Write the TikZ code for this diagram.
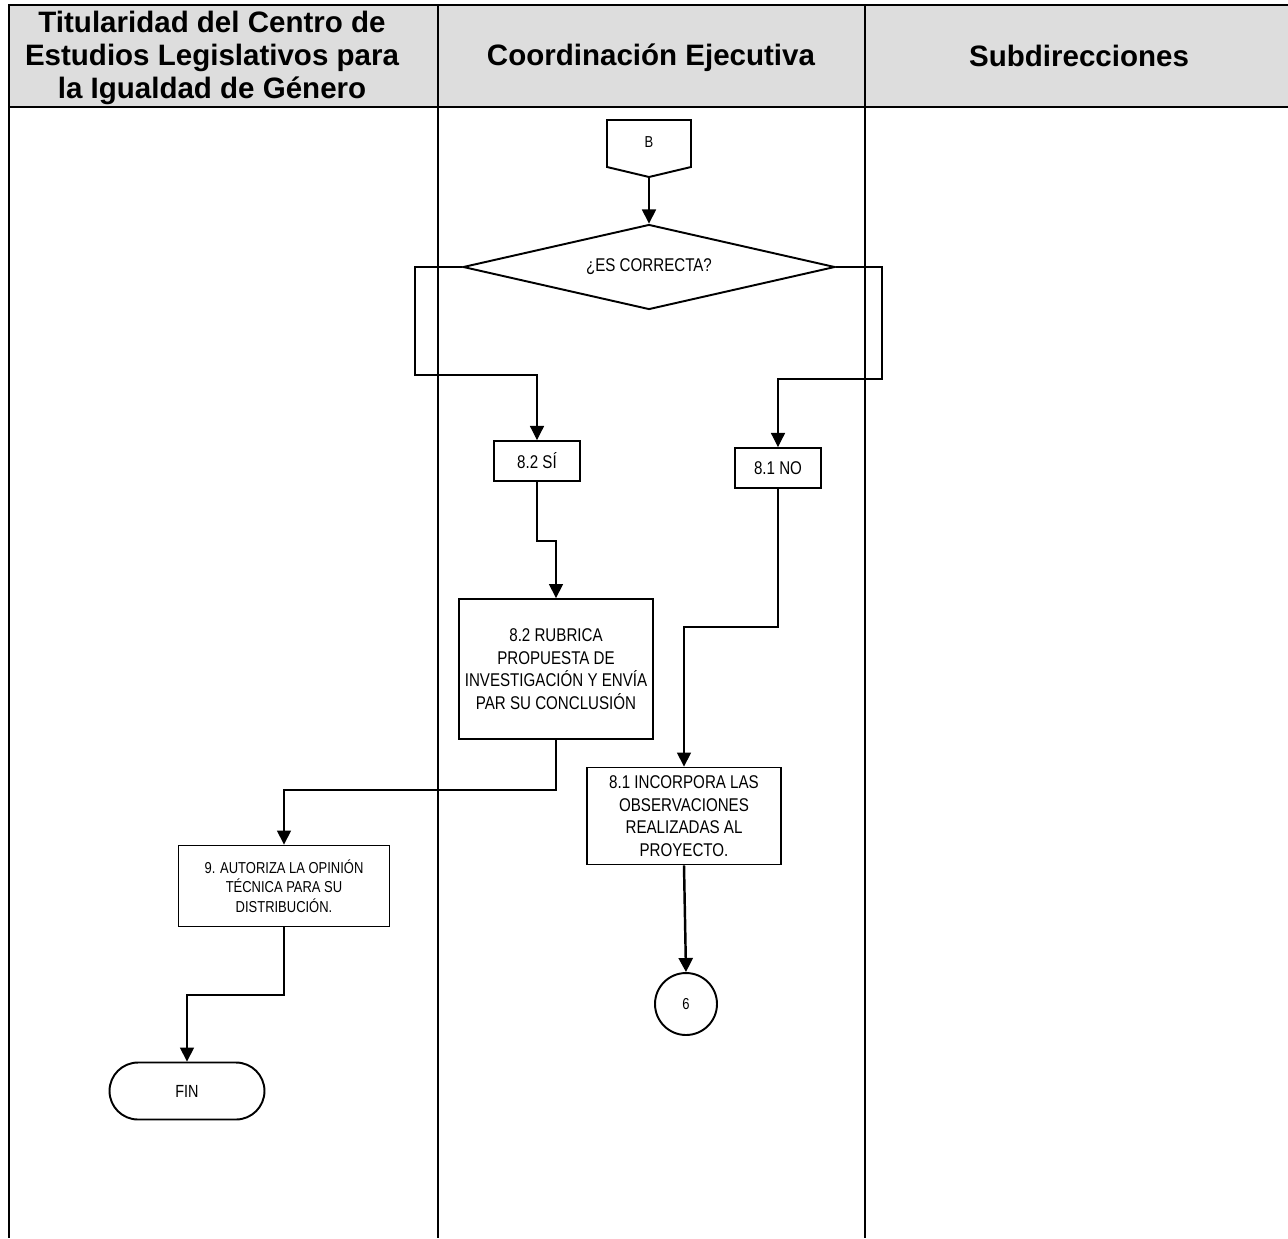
\documentclass[tikz,border=0pt]{standalone}
\usepackage{fontspec}
\setmainfont{Liberation Sans}
\newfontfamily\narrowfont[FakeStretch=0.82]{Liberation Sans}
\usetikzlibrary{arrows.meta,shapes.geometric,shapes.misc}
\definecolor{headgray}{HTML}{DDDDDD}

\begin{document}
\begin{tikzpicture}[x=0.02cm, y=-0.02cm,
    lane/.style={black, line width=1.1pt},
    headtext/.style={align=center, font=\bfseries\fontsize{16.8}{18.9}\selectfont},
    box/.style={draw, line width=1.1pt, fill=white, inner sep=0pt, align=center,
        font=\narrowfont\fontsize{10.5}{12.9}\selectfont},
    link/.style={line width=0.9pt, -{Triangle[width=8pt,length=8pt]}},
    thinlink/.style={line width=0.6pt, -{Triangle[width=8pt,length=8pt]}}
]
    %\draw[step=100,gray,very thin] (0,0) grid (1288,1238);
    \useasboundingbox (0,0) rectangle (1288,1238);

    % encabezado
    \fill[headgray] (9,5) rectangle (1288,107);
    \draw[black, line width=1.7pt] (9,5) -- (1288,5);
    \draw[black, line width=1.7pt] (9,107) -- (1288,107);
    \draw[lane] (9,4) -- (9,1238);
    \draw[lane] (438,5) -- (438,1238);
    \draw[lane] (865,5) -- (865,1238);

    \node[headtext] (hdTit) at (212,58) {Titularidad del Centro de\\Estudios Legislativos para\\la Igualdad de Género};
    \node[headtext] (hdCoord) at (651,58) {Coordinación Ejecutiva};
    \node[headtext] (hdSub) at (1079,56) {Subdirecciones};

    % conector B
    \draw[line width=1.1pt, fill=white] (607,120) -- (691,120) -- (691,167) -- (649,177) -- (607,167) -- cycle;
    \node[font=\narrowfont\fontsize{9}{11}\selectfont] (B) at (649,142) {B};
    \coordinate (Btip) at (649,177);

    % decision
    \node[box, diamond, aspect=4.4, minimum width=7.44cm, minimum height=1.7cm] (dec) at (649,267) {¿ES CORRECTA?};

    \node[box, minimum width=1.72cm, minimum height=0.8cm] (si) at (537,461) {8.2 SÍ};
    \node[box, minimum width=1.72cm, minimum height=0.8cm] (no) at (778,468) {8.1 NO};

    \node[box, minimum width=3.88cm, minimum height=2.8cm] (rub) at (556,669)
        {8.2 RUBRICA\\PROPUESTA DE\\INVESTIGACIÓN Y ENVÍA\\PAR SU CONCLUSIÓN};
    \node[box, minimum width=3.88cm, minimum height=1.94cm] (inc) at (684,816)
        {8.1 INCORPORA LAS\\OBSERVACIONES\\REALIZADAS AL\\PROYECTO.};
    \node[box, minimum width=4.22cm, minimum height=1.62cm,
        font=\narrowfont\fontsize{9}{11.2}\selectfont] (aut) at (284,886)
        {9. AUTORIZA LA OPINIÓN\\TÉCNICA PARA SU\\DISTRIBUCIÓN.};

    \node[box, rounded rectangle, minimum width=3.1cm, minimum height=1.14cm,
        font=\narrowfont\fontsize{10}{12}\selectfont] (fin) at (187,1091) {FIN};
    \node[box, circle, minimum size=1.24cm,
        font=\narrowfont\fontsize{9}{11}\selectfont] (con6) at (686,1004) {6};

    % flechas
    \draw[link] (Btip) -- (dec.north);
    \draw[thinlink] (dec.west) -- (415,267) -- (415,375) -| (si.north);
    \draw[thinlink] (dec.east) -- (882,267) -- (882,379) -| (no.north);
    \draw[link] (si.south) -- (537,541) -| (rub.north);
    \draw[link] (no.south) -- (778,627) -| (inc.north);
    \draw[link] (rub.south) -- (556,790) -| (aut.north);
    \draw[link] (aut.south) -- (284,995) -| (fin.north);
    \draw[link, line width=1.4pt] (inc.south) -- (con6.north);

\end{tikzpicture}
\end{document}
